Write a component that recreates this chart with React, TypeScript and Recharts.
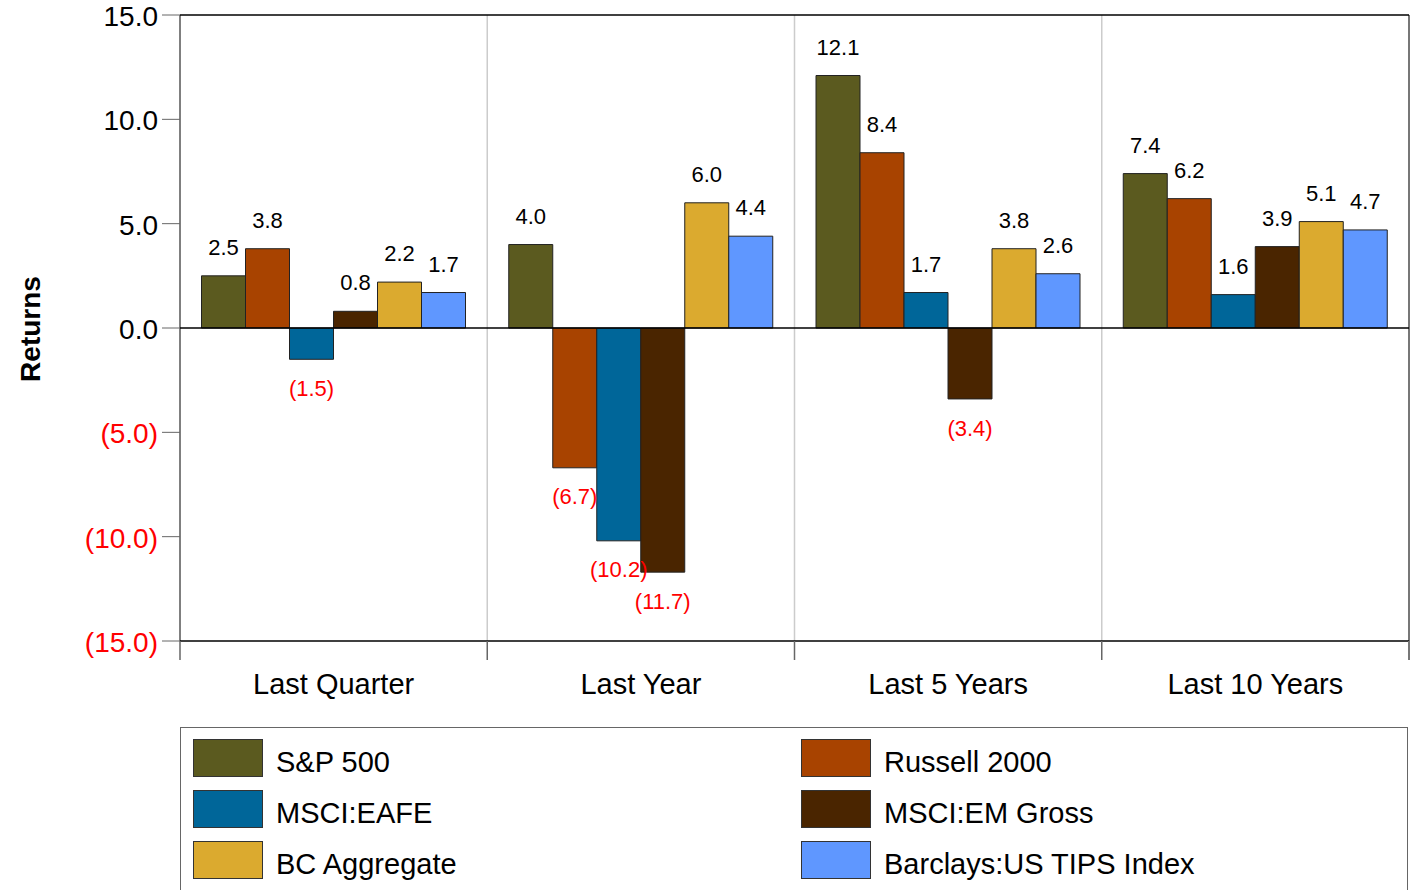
import React from "react";
import { BarChart, Bar, XAxis, YAxis, ReferenceLine, LabelList, CartesianGrid } from "recharts";

const categories = ["Last Quarter", "Last Year", "Last 5 Years", "Last 10 Years"];
const sp500 = [2.5, 4.0, 12.1, 7.4];
const russell2000 = [3.8, -6.7, 8.4, 6.2];
const msciEafe = [-1.5, -10.2, 1.7, 1.6];
const msciEm = [0.8, -11.7, -3.4, 3.9];
const bcAggregate = [2.2, 6.0, 3.8, 5.1];
const tips = [1.7, 4.4, 2.6, 4.7];
const yTicks = [-15, -10, -5, 0, 5, 10, 15];

const series = [
  { key: "sp", name: "S&P 500", color: "#5b5a1f", values: sp500 },
  { key: "r2k", name: "Russell 2000", color: "#a84300", values: russell2000 },
  { key: "eafe", name: "MSCI:EAFE", color: "#006699", values: msciEafe },
  { key: "em", name: "MSCI:EM Gross", color: "#4a2500", values: msciEm },
  { key: "bc", name: "BC Aggregate", color: "#dbaa2f", values: bcAggregate },
  { key: "tips", name: "Barclays:US TIPS Index", color: "#5f97ff", values: tips },
];

const data = categories.map((cat, i) => {
  const row: Record<string, string | number> = { cat };
  series.forEach((s) => (row[s.key] = s.values[i]));
  return row;
});

const fmt = (v: number) => (v < 0 ? `(${Math.abs(v).toFixed(1)})` : v.toFixed(1));

const YTick = (props: any) => {
  const { x, y, payload } = props;
  const v = payload.value as number;
  return (
    <text x={x} y={y} dy={11} textAnchor="end" fontSize={28} fill={v < 0 ? "#ff0000" : "#000"}>
      {fmt(v)}
    </text>
  );
};

// category label plus tick marks at the band edges
const XTick = (props: any) => {
  const { x, y, payload, index, width, visibleTicksCount } = props;
  const half = payload && payload.offset ? payload.offset : width / visibleTicksCount / 2;
  const last = index === visibleTicksCount - 1;
  return (
    <g>
      <line x1={x - half} x2={x - half} y1={y} y2={y + 19} stroke="#666" strokeWidth={1.5} />
      {last && <line x1={x + half} x2={x + half} y1={y} y2={y + 19} stroke="#777" strokeWidth={2} />}
      <text x={x} y={y} dy={53} textAnchor="middle" fontSize={29} fill="#000">
        {payload.value}
      </text>
    </g>
  );
};

const ReturnsLabel = (props: any) => {
  const vb = props.viewBox || { x: 0, y: 0, height: 0 };
  const cx = vb.x + 30;
  const cy = vb.y + vb.height / 2 + 1;
  return (
    <text x={cx} y={cy} dy={10} textAnchor="middle" fontSize={28} fontWeight="bold" transform={`rotate(-90 ${cx} ${cy})`}>
      Returns
    </text>
  );
};

const bandEdges = ({ offset }: any) => categories.map((_, i) => offset.left + (i * offset.width) / categories.length).slice(1);
const rightEdge = ({ offset }: any) => [offset.left + offset.width];

export default function App() {
  return (
    <div style={{ position: "absolute", left: 0, top: 0, width: 1410, height: 890, fontFamily: "'Liberation Sans', Arial, sans-serif", background: "#fff", overflow: "hidden" }}>
      <BarChart width={1410} height={720} data={data} margin={{ top: 15, right: 1, left: 0, bottom: 19 }} barCategoryGap="7%" barGap={0}>
        <CartesianGrid horizontal={false} verticalCoordinatesGenerator={bandEdges} stroke="#cccccc" strokeWidth={1.5} />
        <CartesianGrid horizontal={false} verticalCoordinatesGenerator={rightEdge} stroke="#777" strokeWidth={2} />
        <XAxis dataKey="cat" height={60} tickLine={false} axisLine={{ stroke: "#000", strokeWidth: 1.5 }} tickSize={0} tickMargin={0} tick={<XTick />} interval={0} />
        <YAxis
          type="number"
          domain={[-15, 15]}
          ticks={yTicks}
          width={180}
          tickSize={18}
          tickMargin={4}
          tick={<YTick />}
          axisLine={{ stroke: "#000" }}
          tickLine={{ stroke: "#666" }}
          interval={0}
          label={<ReturnsLabel />}
        />
        {series.map((s) => (
          <Bar key={s.key} dataKey={s.key} name={s.name} fill={s.color} stroke="#222" strokeWidth={1} isAnimationActive={false}>
            <LabelList dataKey={s.key} position="top" offset={21} fontSize={22} fill="#000" formatter={(v: any) => (Number(v) >= 0 ? fmt(Number(v)) : "")} />
            <LabelList dataKey={s.key} position="top" offset={21} fontSize={22} fill="#ff0000" formatter={(v: any) => (Number(v) < 0 ? fmt(Number(v)) : "")} />
          </Bar>
        ))}
        <ReferenceLine y={0} stroke="#000" strokeWidth={1.5} />
        <ReferenceLine y={15} stroke="#000" strokeWidth={1.5} />
      </BarChart>
      <div style={{ position: "absolute", left: 180, top: 727, width: 1228, height: 200, border: "1.5px solid #666", boxSizing: "border-box" }}>
        <div style={{ display: "grid", gridTemplateColumns: "608px 600px", rowGap: 13, padding: "11px 0 0 12px" }}>
          {series.map((s) => (
            <div key={s.key} style={{ display: "flex", alignItems: "center", height: 38 }}>
              <div style={{ width: 70, height: 38, background: s.color, border: "1px solid #333", boxSizing: "border-box" }} />
              <span style={{ marginLeft: 13, fontSize: 29, color: "#000", position: "relative", top: 4 }}>{s.name}</span>
            </div>
          ))}
        </div>
      </div>
    </div>
  );
}
